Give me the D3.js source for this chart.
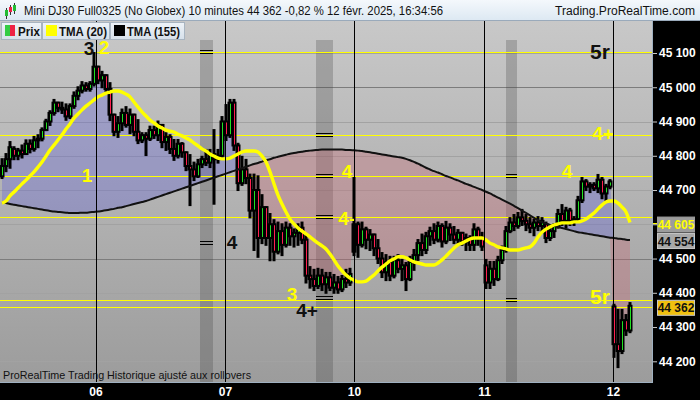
<!DOCTYPE html>
<html><head><meta charset="utf-8">
<script src="https://cdn.jsdelivr.net/npm/d3@7"></script>
<style>html,body{margin:0;padding:0;background:#000;}svg{display:block;}</style>
</head><body>
<svg id="c" width="700" height="400"></svg>
<script>
// ---------- DATA ----------
const title = "Mini DJ30 Full0325 (No Globex) 10 minutes 44 362 -0,82 % 12 févr. 2025, 16:34:56";
const site = "Trading.ProRealTime.com";
const footer = "ProRealTime Trading  Historique ajusté aux rollovers";
const legendItems = ["Prix", "TMA (20)", "TMA (155)"];

const open = [44740,44770,44790,44820,44800,44815,44805,44835,44820,44845,
44850,44875,44900,44925,44955,44940,44935,44915,44945,44975,
44990,45005,44995,45010,45060,45020,45035,44995,44920,44870,
44895,44925,44890,44920,44870,44845,44860,44850,44875,44860,
44890,44840,44855,44820,44800,44835,44810,44770,44760,44740,
44775,44790,44780,44805,44790,44800,44900,44860,44955,44830,
44720,44760,44735,44640,44700,44560,44650,44560,44600,44520,
44580,44540,44590,44565,44575,44590,44555,44450,44440,44420,
44450,44425,44445,44415,44430,44410,44440,44430,44520,44600,
44540,44585,44555,44570,44530,44500,44460,44490,44450,44495,
44470,44480,44440,44490,44510,44545,44525,44565,44580,44555,
44595,44550,44590,44570,44555,44575,44550,44560,44540,44585,
44560,44480,44430,44470,44440,44495,44525,44580,44605,44595,
44620,44610,44600,44590,44605,44595,44600,44560,44580,44595,
44630,44610,44640,44610,44615,44670,44725,44710,44715,44705,
44730,44690,44710,44360,44250,44230,44320,44290];
const high = [44790,44805,44840,44825,44820,44830,44845,44845,44855,44860,
44880,44905,44930,44963,44955,44955,44950,44950,44985,45000,
45015,45012,45015,45100,45056,45045,45030,45012,44920,44913,
44935,44942,44935,44920,44904,44866,44866,44885,44885,44900,
44890,44866,44860,44846,44846,44837,44808,44802,44780,44788,
44797,44817,44817,44875,44817,44913,44948,44963,44963,44835,
44797,44788,44745,44745,44740,44685,44640,44630,44612,44605,
44600,44605,44600,44585,44600,44605,44565,44475,44467,44470,
44467,44458,44458,44452,44446,44449,44467,44470,44735,44605,
44605,44590,44583,44570,44554,44516,44510,44505,44505,44510,
44496,44487,44505,44525,44554,44570,44575,44590,44600,44605,
44600,44607,44600,44592,44583,44575,44570,44565,44600,44590,
44575,44496,44490,44490,44505,44535,44592,44618,44627,44633,
44642,44627,44618,44613,44621,44618,44605,44590,44600,44642,
44656,44648,44645,44621,44680,44735,44729,44720,44720,44744,
44735,44715,44729,44365,44350,44350,44335,44370];
const low = [44735,44755,44765,44790,44790,44795,44805,44810,44815,44825,
44845,44875,44890,44920,44930,44925,44905,44910,44940,44965,
44985,44990,44990,45005,45012,45000,44985,44904,44860,44855,
44875,44885,44866,44860,44837,44840,44802,44846,44852,44846,
44825,44817,44808,44788,44795,44797,44758,44656,44729,44738,
44767,44773,44767,44660,44780,44795,44846,44855,44817,44700,
44715,44720,44620,44525,44505,44545,44540,44495,44495,44515,
44510,44535,44540,44535,44540,44545,44430,44415,44408,44414,
44408,44400,44408,44400,44400,44405,44417,44423,44510,44505,
44535,44530,44525,44510,44487,44446,44437,44437,44445,44460,
44437,44408,44437,44467,44496,44510,44516,44540,44545,44550,
44535,44545,44554,44545,44540,44540,44525,44525,44525,44540,
44525,44414,44414,44423,44437,44487,44520,44577,44583,44590,
44598,44583,44577,44568,44583,44577,44548,44554,44563,44590,
44598,44592,44598,44598,44610,44665,44700,44694,44700,44694,
44676,44665,44705,44213,44183,44224,44277,44285];
const close = [44770,44790,44825,44800,44815,44805,44835,44820,44845,44850,
44875,44900,44925,44955,44940,44935,44915,44945,44975,44990,
45005,44995,45010,45060,45020,45035,44995,44920,44870,44895,
44925,44890,44920,44870,44845,44860,44850,44875,44860,44890,
44840,44855,44820,44800,44835,44810,44770,44760,44740,44775,
44790,44780,44805,44790,44800,44900,44860,44955,44830,44720,
44760,44735,44640,44700,44560,44650,44560,44600,44520,44580,
44540,44590,44565,44575,44590,44555,44450,44440,44420,44450,
44425,44445,44415,44430,44410,44440,44430,44455,44600,44540,
44585,44555,44570,44530,44500,44460,44490,44450,44495,44470,
44480,44440,44490,44510,44545,44525,44565,44580,44555,44595,
44550,44590,44570,44555,44575,44550,44560,44540,44585,44560,
44535,44430,44470,44440,44495,44525,44580,44605,44595,44620,
44610,44600,44590,44605,44595,44610,44560,44580,44595,44630,
44610,44640,44610,44615,44670,44725,44710,44715,44705,44730,
44690,44710,44725,44250,44230,44320,44290,44362];
const tma20 = [44662,44668,44683,44694,44706,44718,44729,44741,44753,44767,
44782,44799,44817,44831,44846,44861,44878,44893,44910,44922,
44934,44945,44954,44963,44972,44977,44983,44986,44989,44989,
44986,44980,44972,44957,44942,44928,44916,44904,44896,44887,
44881,44875,44872,44869,44863,44858,44852,44846,44837,44829,
44820,44814,44805,44799,44793,44791,44791,44793,44799,44805,
44811,44814,44814,44814,44811,44799,44782,44753,44718,44685,
44659,44636,44615,44601,44589,44580,44572,44563,44554,44545,
44537,44528,44513,44496,44478,44464,44452,44443,44437,44432,
44432,44434,44443,44452,44464,44475,44484,44493,44499,44505,
44505,44502,44496,44490,44487,44484,44481,44481,44481,44487,
44496,44507,44519,44531,44540,44545,44551,44557,44560,44560,
44560,44554,44545,44540,44534,44531,44528,44525,44525,44525,
44528,44531,44534,44545,44563,44577,44586,44592,44598,44601,
44604,44604,44604,44607,44607,44610,44615,44624,44633,44645,
44656,44665,44668,44668,44662,44650,44636,44605];
const tma155 = [44664,44662,44659,44657,44655,44653,44651,44649,44647,44645,
44643,44641,44639,44637,44636,44635,44634,44633,44633,44633,
44634,44634,44635,44636,44637,44639,44641,44643,44645,44648,
44650,44653,44656,44659,44662,44665,44668,44672,44676,44680,
44684,44688,44692,44696,44700,44704,44708,44712,44716,44720,
44724,44728,44732,44736,44740,44744,44748,44752,44756,44760,
44764,44768,44772,44776,44779,44783,44787,44790,44794,44797,
44800,44803,44806,44808,44810,44812,44814,44815,44816,44817,
44818,44818,44818,44818,44818,44818,44817,44817,44816,44815,
44814,44812,44810,44808,44806,44804,44802,44800,44798,44796,
44794,44791,44787,44782,44777,44771,44765,44760,44755,44751,
44746,44741,44737,44732,44728,44723,44718,44714,44709,44705,
44700,44695,44690,44684,44678,44672,44666,44660,44654,44647,
44640,44633,44626,44619,44612,44606,44602,44598,44595,44592,
44589,44586,44583,44580,44577,44575,44573,44571,44569,44567,
44565,44563,44561,44560,44558,44557,44555,44554];

const dayLabels = ["06","07","10","11","12"];
const dayPos = [23.375, 55.75, 88, 120.5, 152.75];           // bar index of each day start
const yTicks = [44200,44300,44400,44500,44600,44700,44800,44900,45000,45100];
const yTickLabels = ["44 200","44 300","44 400","44 500","","44 700","44 800","44 900","45 000","45 100"];
const levels = [45102, 44861, 44740, 44620, 44378, 44358];   // yellow horizontal levels
const bandStart = [49.5, 78.5, 126];
const bandEnd = [52.75, 82.75, 128.75];
const bandMarkBand = [0, 0, 1, 1, 1, 1, 2, 2];
const bandMarkLevel = [45102, 44545, 44861, 44740, 44620, 44385, 44740, 44378];
const annText  = ["3","2","1","4","3","4+","4","4-","4","4+","5r","5r"];
const annIdx   = [21.75,25.5,21.25,57.5,72.5,76.25,86.25,86.2,141.25,150.25,149.5,149.5];
const annPrice = [45114,45115,44741,44548,44395,44349,44753,44618,44753,44864,45103,44388];
const annColor = ["#111","#ffff00","#ffff00","#111","#ffff00","#111","#ffff00","#ffff00","#ffff00","#ffff00","#111","#ffff00"];

// ---------- LAYOUT ----------
const W = 700, H = 400;
const PL = 0, PR = 652, PT = 21, PB = 382;
const FONT = "Liberation Sans, Arial, sans-serif";
const svg = d3.select("#c");
const x = d3.scaleLinear().domain([0, close.length - 1]).range([2, 630]);
const y = d3.scaleLinear().domain([44200, 45100]).range([361.3, 53]);
const defs = svg.append("defs");
const g1 = defs.append("linearGradient").attr("id","bg").attr("x1",0).attr("y1",0).attr("x2",0).attr("y2",1);
g1.append("stop").attr("offset","0%").attr("stop-color","#c8c8c8");
g1.append("stop").attr("offset","100%").attr("stop-color","#9c9c9c");
const g2 = defs.append("linearGradient").attr("id","hd").attr("x1",0).attr("y1",0).attr("x2",0).attr("y2",1);
g2.append("stop").attr("offset","0%").attr("stop-color","#f4f8fc");
g2.append("stop").attr("offset","100%").attr("stop-color","#dce8f2");
const g3 = defs.append("linearGradient").attr("id","lg").attr("x1",0).attr("y1",0).attr("x2",0).attr("y2",1);
g3.append("stop").attr("offset","0%").attr("stop-color","#eef3f8");
g3.append("stop").attr("offset","100%").attr("stop-color","#d6e0ea");
defs.append("clipPath").attr("id","clip").append("rect").attr("x",PL).attr("y",PT).attr("width",PR-PL).attr("height",PB-PT);

svg.append("rect").attr("width",W).attr("height",H).attr("fill","#000");
// header
svg.append("rect").attr("x",0).attr("y",0).attr("width",W).attr("height",21).attr("fill","url(#hd)");
svg.append("line").attr("x1",0).attr("x2",W).attr("y1",20.5).attr("y2",20.5).attr("stroke","#9aaabb");
// plot background
svg.append("rect").attr("x",PL).attr("y",PT).attr("width",PR-PL).attr("height",PB-PT).attr("fill","url(#bg)");

const plot = svg.append("g").attr("clip-path","url(#clip)");
// grid
plot.selectAll("line.grid").data(yTicks).join("line")
  .attr("x1",PL).attr("x2",PR).attr("y1",d=>Math.round(y(d))+0.5).attr("y2",d=>Math.round(y(d))+0.5)
  .attr("stroke",d=>(d===45000||d===44500)?"#7c7c7c":"#a2a2a2").attr("stroke-width",1);
// bands
plot.selectAll("rect.band").data(bandStart).join("rect")
  .attr("x",(d)=>x(d)).attr("width",(d,i)=>x(bandEnd[i])-x(d))
  .attr("y",40).attr("height",PB-40).attr("fill","rgba(60,60,60,0.26)");
// fills between close and TMA155
const idx = d3.range(close.length);
plot.append("path").datum(idx)
  .attr("d", d3.area().x(i=>x(i)).y0(i=>y(tma155[i])).y1(i=>y(Math.max(close[i],tma155[i]))))
  .attr("fill","rgba(95,95,215,0.33)");
plot.append("path").datum(idx)
  .attr("d", d3.area().x(i=>x(i)).y0(i=>y(tma155[i])).y1(i=>y(Math.min(close[i],tma155[i]))))
  .attr("fill","rgba(205,95,110,0.30)");
// yellow levels
plot.selectAll("line.lvl").data(levels).join("line")
  .attr("x1",PL).attr("x2",PR).attr("y1",d=>Math.round(y(d))+0.5).attr("y2",d=>Math.round(y(d))+0.5)
  .attr("stroke","#ffff00").attr("stroke-width",1);
// band marks
bandMarkLevel.forEach((lv,k)=>{
  const b = bandMarkBand[k];
  const yy = Math.round(y(lv));
  [-1.5, 1.5].forEach(o=>{
    plot.append("line").attr("x1",x(bandStart[b])).attr("x2",x(bandEnd[b]))
      .attr("y1",yy+o).attr("y2",yy+o).attr("stroke","#000").attr("stroke-width",1);
  });
});
// day lines
svg.selectAll("line.day").data(dayPos).join("line")
  .attr("x1",d=>Math.round(x(d))+0.5).attr("x2",d=>Math.round(x(d))+0.5)
  .attr("y1",PT).attr("y2",PB).attr("stroke","#000").attr("stroke-width",1);
// candles
const cg = plot.append("g");
idx.forEach(i=>{
  const cx = x(i);
  const hi = Math.max(high[i],open[i],close[i]), lo = Math.min(low[i],open[i],close[i]);
  cg.append("rect").attr("x",cx-1.5).attr("width",3).attr("y",y(hi)-1).attr("height",y(lo)-y(hi)+2).attr("fill","#000");
  const top = y(Math.max(open[i],close[i])), bot = y(Math.min(open[i],close[i]));
  cg.append("rect").attr("x",cx-2.5).attr("width",5).attr("y",top-1).attr("height",Math.max(bot-top+2,3)).attr("fill","#000");
});
idx.forEach(i=>{
  const cx = x(i);
  const top = y(Math.max(open[i],close[i])), bot = y(Math.min(open[i],close[i]));
  if (bot - top >= 2) {
    cg.append("line").attr("x1",Math.round(cx)+0.5).attr("x2",Math.round(cx)+0.5)
      .attr("y1",top+1).attr("y2",bot-1)
      .attr("stroke", close[i] >= open[i] ? "#22e022" : "#ff2050").attr("stroke-width",1);
  }
});
// TMA lines
plot.append("path").datum(idx)
  .attr("d", d3.line().x(i=>x(i)).y(i=>y(tma155[i])).curve(d3.curveMonotoneX))
  .attr("fill","none").attr("stroke","#111").attr("stroke-width",2);
plot.append("path").datum(idx)
  .attr("d", d3.line().x(i=>x(i)).y(i=>y(tma20[i])).curve(d3.curveMonotoneX))
  .attr("fill","none").attr("stroke","#ffff00").attr("stroke-width",3.4).attr("stroke-linejoin","round");
// annotations
annText.forEach((t,k)=>{
  plot.append("text").attr("x",x(annIdx[k])).attr("y",y(annPrice[k]))
    .attr("text-anchor","middle").attr("dominant-baseline","central")
    .attr("font-family",FONT).attr("font-weight","bold")
    .attr("font-size", t==="5r" ? 21 : 19).attr("fill",annColor[k]).text(t);
});
// footer text
svg.append("text").attr("x",3).attr("y",379).attr("font-family",FONT)
  .attr("font-size",11.5).attr("fill","#111")
  .attr("textLength",248).attr("lengthAdjust","spacingAndGlyphs").text(footer);

// legend
const lgX = [1, 42, 110], lgW = [40, 67, 74], lgTL = [22, 48, 53];
const swatch = [null, "#ffff00", "#000"];
legendItems.forEach((t,k)=>{
  svg.append("rect").attr("x",lgX[k]+0.5).attr("y",22.5).attr("width",lgW[k]).attr("height",17)
    .attr("fill","url(#lg)").attr("stroke","#a8b4c0");
  if (k===0) {
    svg.append("rect").attr("x",lgX[k]+4).attr("y",25).attr("width",5).attr("height",11).attr("fill","#33cc44");
    svg.append("rect").attr("x",lgX[k]+9).attr("y",25).attr("width",5).attr("height",11).attr("fill","#ee2244");
  } else {
    svg.append("rect").attr("x",lgX[k]+4).attr("y",25).attr("width",11).attr("height",11).attr("fill",swatch[k]);
  }
  svg.append("text").attr("x",lgX[k]+17).attr("y",35.5).attr("font-family",FONT)
    .attr("font-weight","bold").attr("font-size",12).attr("fill","#111")
    .attr("textLength",lgTL[k]).attr("lengthAdjust","spacingAndGlyphs").text(t);
});

// header content
const icon = [[6,8,17,"#22bb33"],[10,5,13,"#ee2244"],[14,3,12,"#22bb33"]];
icon.forEach(d=>{
  svg.append("line").attr("x1",d[0]+0.5).attr("x2",d[0]+0.5).attr("y1",d[1]).attr("y2",d[2]+2).attr("stroke","#333");
  svg.append("rect").attr("x",d[0]-1).attr("y",d[1]+2).attr("width",3).attr("height",d[2]-d[1]-3).attr("fill",d[3]);
});
svg.append("text").attr("x",24).attr("y",15).attr("font-family",FONT)
  .attr("font-size",12.5).attr("fill","#111")
  .attr("textLength",419).attr("lengthAdjust","spacingAndGlyphs").text(title);
svg.append("text").attr("x",555).attr("y",15).attr("font-family",FONT)
  .attr("font-size",12.5).attr("fill","#111")
  .attr("textLength",140).attr("lengthAdjust","spacingAndGlyphs").text(site);

// axes panels
svg.append("rect").attr("x",PR+1).attr("y",PT).attr("width",W-PR-1).attr("height",H-PT).attr("fill","#000");
svg.append("rect").attr("x",0).attr("y",PB+1).attr("width",W).attr("height",H-PB-1).attr("fill","#000");
svg.append("line").attr("x1",PR+0.5).attr("x2",PR+0.5).attr("y1",PT).attr("y2",PB+1).attr("stroke","#9fb0c0");
svg.append("line").attr("x1",0).attr("x2",PR+1).attr("y1",PB+0.5).attr("y2",PB+0.5).attr("stroke","#9fb0c0");

const yAxis = svg.append("g").attr("transform",`translate(${PR+1},0)`)
  .call(d3.axisRight(y).tickValues(yTicks).tickSize(4).tickPadding(2).tickFormat((d,i)=>yTickLabels[i]));
yAxis.select(".domain").remove();
yAxis.selectAll("line").attr("stroke","#ccc");
yAxis.selectAll("text").attr("fill","#fff").attr("font-family",FONT)
  .attr("font-weight","bold").attr("font-size",12);

const xAxis = svg.append("g").attr("transform",`translate(0,${PB})`)
  .call(d3.axisBottom(x).tickValues(dayPos).tickSize(0).tickPadding(5).tickFormat((d,i)=>dayLabels[i]));
xAxis.select(".domain").remove();
xAxis.selectAll("text").attr("fill","#fff").attr("font-family",FONT)
  .attr("font-weight","bold").attr("font-size",12).attr("dy","0.75em");

// value boxes
const lastTma20 = tma20[tma20.length-1], lastTma155 = tma155[tma155.length-1], lastClose = close[close.length-1];
const fmt = v => d3.format(",")(Math.round(v)).replace(",", " ");
function valueBox(v, cy, bg, fg, border) {
  svg.append("rect").attr("x",657.5).attr("y",cy-7.5).attr("width",37).attr("height",15).attr("fill",bg).attr("stroke",border);
  svg.append("text").attr("x",676).attr("y",cy+4.5).attr("text-anchor","middle").attr("font-family",FONT)
    .attr("font-weight","bold").attr("font-size",12).attr("fill",fg).text(fmt(v));
}
svg.append("line").attr("x1",653).attr("x2",657).attr("y1",Math.round(y(lastTma20))+0.5).attr("y2",Math.round(y(lastTma20))+0.5).attr("stroke","#ffff00");
valueBox(lastTma20, y(lastTma20)+2, "#9c9c9c", "#ffff00", "#9c9c9c");
valueBox(lastTma155, y(lastTma155)+1, "#a8a8a8", "#111", "#c8c8c8");
valueBox(lastClose, y(lastClose)+2, "#f0c010", "#111", "#c8c8c8");
</script>
</body></html>
